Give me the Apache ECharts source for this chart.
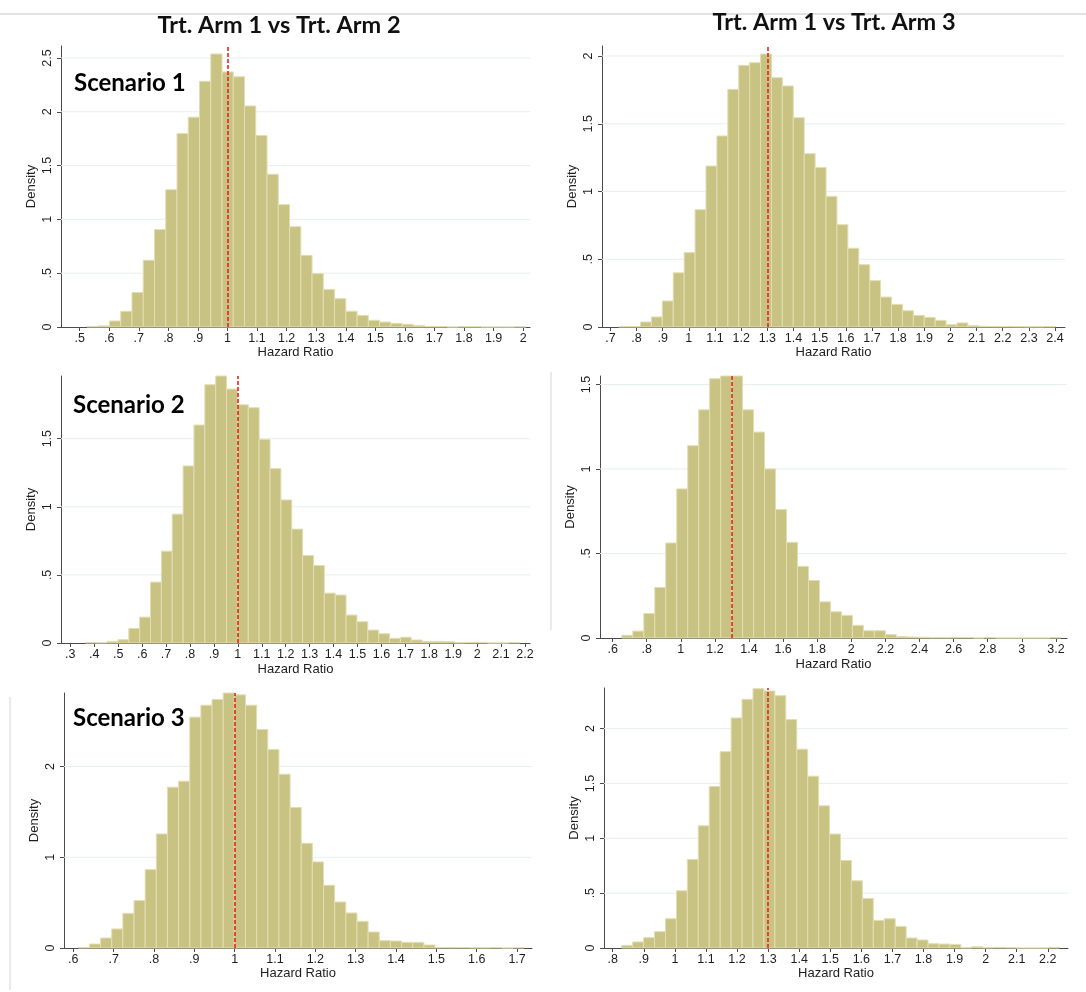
<!DOCTYPE html>
<html><head><meta charset="utf-8">
<script src="https://cdn.jsdelivr.net/npm/echarts@6/dist/echarts.min.js"></script>
<style>html,body{margin:0;padding:0;background:#fff}#c{width:1086px;height:992px}</style>
</head><body><div id="c"></div>
<script>
// ---------- DATA ----------
const colTitles = ['Trt. Arm 1 vs Trt. Arm 2', 'Trt. Arm 1 vs Trt. Arm 3'];
const scenarioLabels = ['Scenario 1', 'Scenario 2', 'Scenario 3'];
const xAxisTitle = 'Hazard Ratio';
const yAxisTitle = 'Density';

// Scenario 1, Arm1 vs Arm2
const binStart1 = 0.5248, binWidth1 = 0.03806;
const density1 = [0.005, 0.01, 0.056, 0.146, 0.32, 0.62, 0.905, 1.276, 1.797, 1.95,
  2.283, 2.537, 2.37, 2.326, 2.054, 1.78, 1.419, 1.137, 0.932, 0.666,
  0.496, 0.35, 0.263, 0.146, 0.108, 0.062, 0.046, 0.034, 0.025, 0.015,
  0.006, 0.004, 0, 0.003, 0.003, 0, 0, 0, 0.003];
const xTicks1 = [0.5, 0.6, 0.7, 0.8, 0.9, 1, 1.1, 1.2, 1.3, 1.4, 1.5, 1.6, 1.7, 1.8, 1.9, 2];
const yTicks1 = [0, 0.5, 1, 1.5, 2, 2.5];
const refHR1 = 1;

// Scenario 1, Arm1 vs Arm3
const binStart2 = 0.7318, binWidth2 = 0.04172;
const density2 = [0.003, 0.003, 0.037, 0.074, 0.192, 0.40, 0.549, 0.866, 1.188, 1.41,
  1.754, 1.931, 1.951, 2.015, 1.84, 1.779, 1.545, 1.279, 1.178, 0.964,
  0.755, 0.581, 0.46, 0.342, 0.221, 0.167, 0.12, 0.086, 0.071, 0.049,
  0.017, 0.03, 0.01, 0.005, 0.004, 0.004, 0.003, 0.002, 0.002, 0.004];
const xTicks2 = [0.7, 0.8, 0.9, 1, 1.1, 1.2, 1.3, 1.4, 1.5, 1.6, 1.7, 1.8, 1.9, 2, 2.1, 2.2, 2.3, 2.4];
const yTicks2 = [0, 0.5, 1, 1.5, 2];
const refHR2 = 1.3;

// Scenario 2, Arm1 vs Arm2
const binStart3 = 0.3627, binWidth3 = 0.0454;
const density3 = [0.004, 0.002, 0.012, 0.024, 0.107, 0.19, 0.447, 0.674, 0.946, 1.30,
  1.60, 1.896, 1.96, 1.864, 1.749, 1.727, 1.495, 1.28, 1.05, 0.836,
  0.643, 0.569, 0.366, 0.352, 0.205, 0.156, 0.095, 0.068, 0.034, 0.042,
  0.022, 0.012, 0.012, 0.01, 0.002, 0.004, 0.004, 0, 0, 0.004];
const xTicks3 = [0.3, 0.4, 0.5, 0.6, 0.7, 0.8, 0.9, 1, 1.1, 1.2, 1.3, 1.4, 1.5, 1.6, 1.7, 1.8, 1.9, 2, 2.1, 2.2];
const yTicks3 = [0, 0.5, 1, 1.5];
const refHR3 = 1;

// Scenario 2, Arm1 vs Arm3
const binStart4 = 0.654, binWidth4 = 0.0644;
const density4 = [0.016, 0.041, 0.145, 0.299, 0.562, 0.882, 1.138, 1.35, 1.534, 1.55,
  1.55, 1.35, 1.218, 1.0, 0.76, 0.566, 0.424, 0.34, 0.214, 0.155,
  0.134, 0.075, 0.043, 0.043, 0.02, 0.008, 0.006, 0.004, 0.002, 0.002,
  0.003, 0.003, 0, 0.003, 0, 0, 0, 0, 0, 0.003];
const xTicks4 = [0.6, 0.8, 1, 1.2, 1.4, 1.6, 1.8, 2, 2.2, 2.4, 2.6, 2.8, 3, 3.2];
const yTicks4 = [0, 0.5, 1, 1.5];
const refHR4 = 1.3;

// Scenario 3, Arm1 vs Arm2
const binStart5 = 0.6124, binWidth5 = 0.02763;
const density5 = [0.005, 0.044, 0.11, 0.21, 0.382, 0.522, 0.864, 1.257, 1.772, 1.838,
  2.544, 2.676, 2.739, 2.81, 2.79, 2.676, 2.408, 2.187, 1.915, 1.548,
  1.154, 0.949, 0.691, 0.507, 0.386, 0.294, 0.176, 0.081, 0.077, 0.0625,
  0.0625, 0.033, 0.006, 0.006, 0.006, 0.003, 0.003, 0.006, 0, 0.005];
const xTicks5 = [0.6, 0.7, 0.8, 0.9, 1, 1.1, 1.2, 1.3, 1.4, 1.5, 1.6, 1.7];
const yTicks5 = [0, 1, 2];
const refHR5 = 1;

// Scenario 3, Arm1 vs Arm3
const binStart6 = 0.829, binWidth6 = 0.0352;
const density6 = [0.024, 0.055, 0.094, 0.149, 0.267, 0.522, 0.807, 1.114, 1.472, 1.79,
  2.097, 2.267, 2.364, 2.343, 2.30, 2.082, 1.812, 1.566, 1.296, 1.039,
  0.798, 0.613, 0.452, 0.252, 0.267, 0.197, 0.091, 0.073, 0.039, 0.036,
  0.033, 0.002, 0.012, 0.003, 0.006, 0.003, 0, 0, 0, 0.006];
const xTicks6 = [0.8, 0.9, 1, 1.1, 1.2, 1.3, 1.4, 1.5, 1.6, 1.7, 1.8, 1.9, 2, 2.1, 2.2];
const yTicks6 = [0, 0.5, 1, 1.5, 2];
const refHR6 = 1.3;

// ---------- LAYOUT / STYLE ----------
const panels = [
  {start: binStart1, width: binWidth1, dens: density1, xt: xTicks1, yt: yTicks1, ref: refHR1,
   grid: {left: 61, top: 46, width: 469, height: 281}, xMin: 0.437, xMax: 2.023, yMax: 2.611, xGap: 18},
  {start: binStart2, width: binWidth2, dens: density2, xt: xTicks2, yt: yTicks2, ref: refHR2,
   grid: {left: 602, top: 46, width: 463, height: 281}, xMin: 0.668, xMax: 2.438, yMax: 2.074, xGap: 18},
  {start: binStart3, width: binWidth3, dens: density3, xt: xTicks3, yt: yTicks3, ref: refHR3,
   grid: {left: 61, top: 376, width: 469, height: 267}, xMin: 0.261, xMax: 2.221, yMax: 1.96, xGap: 20},
  {start: binStart4, width: binWidth4, dens: density4, xt: xTicks4, yt: yTicks4, ref: refHR4,
   grid: {left: 600, top: 376, width: 467, height: 262}, xMin: 0.526, xMax: 3.265, yMax: 1.55, xGap: 20},
  {start: binStart5, width: binWidth5, dens: density5, xt: xTicks5, yt: yTicks5, ref: refHR5,
   grid: {left: 64, top: 693, width: 468, height: 255}, xMin: 0.577, xMax: 1.737, yMax: 2.81, xGap: 19},
  {start: binStart6, width: binWidth6, dens: density6, xt: xTicks6, yt: yTicks6, ref: refHR6,
   grid: {left: 604, top: 688, width: 464, height: 260}, xMin: 0.772, xMax: 2.265, yMax: 2.37, xGap: 19}
];

const BAR_FILL = '#C9C383';
const BAR_EDGE = '#E2DEB2';
const AXIS_COL = '#4a4a4a';
const TXT_COL = '#1e1e1e';
const GRID_COL = '#E6EFF1';
const FONT = 'Liberation Sans';

function fmt(v) {
  let s = String(Math.round(v * 100) / 100);
  return s.replace(/^0\./, '.');
}

const option = {
  animation: false,
  backgroundColor: '#fff',
  grid: [], xAxis: [], yAxis: [], series: [],
  graphic: []
};

panels.forEach((p, i) => {
  option.grid.push(Object.assign({containLabel: false}, p.grid));
  option.xAxis.push({
    type: 'value', gridIndex: i, min: p.xMin, max: p.xMax,
    axisLine: {show: true, onZero: false, lineStyle: {color: AXIS_COL, width: 1}},
    axisTick: {show: true, customValues: p.xt, length: 4, lineStyle: {color: AXIS_COL}},
    axisLabel: {show: true, customValues: p.xt, formatter: fmt, fontSize: 12.5, color: TXT_COL, margin: 5, fontFamily: FONT},
    splitLine: {show: false},
    name: xAxisTitle, nameLocation: 'middle', nameGap: p.xGap,
    nameTextStyle: {fontSize: 13, color: TXT_COL, fontFamily: FONT}
  });
  option.yAxis.push({
    type: 'value', gridIndex: i, min: 0, max: p.yMax,
    axisLine: {show: true, onZero: false, lineStyle: {color: AXIS_COL, width: 1}},
    axisTick: {show: true, customValues: p.yt, length: 4, lineStyle: {color: AXIS_COL}},
    axisLabel: {show: true, customValues: p.yt, formatter: fmt, rotate: 90, fontSize: 12.5, color: TXT_COL, margin: 7, fontFamily: FONT},
    splitLine: {show: false},
    name: yAxisTitle, nameLocation: 'middle', nameGap: 23, nameRotate: 90,
    nameTextStyle: {fontSize: 13, color: TXT_COL, fontFamily: FONT}
  });
  // gridlines
  option.series.push({
    type: 'custom', xAxisIndex: i, yAxisIndex: i, z: 1, silent: true,
    data: p.yt.filter(v => v > 0).map(v => [v]),
    encode: {y: 0},
    renderItem: (params, api) => {
      const v = api.value(0);
      const a = api.coord([p.xMin, v]), b = api.coord([p.xMax, v]);
      return {type: 'line', shape: {x1: a[0], y1: a[1], x2: b[0], y2: b[1]},
              style: {stroke: GRID_COL, lineWidth: 1}};
    }
  });
  // histogram bars
  option.series.push({
    type: 'custom', xAxisIndex: i, yAxisIndex: i, z: 2, silent: true,
    data: p.dens.map((d, k) => [p.start + k * p.width, p.start + (k + 1) * p.width, d]),
    encode: {x: [0, 1], y: 2},
    renderItem: (params, api) => {
      const a = api.coord([api.value(0), api.value(2)]);
      const b = api.coord([api.value(1), 0]);
      return {type: 'rect', shape: {x: a[0], y: a[1], width: b[0] - a[0], height: b[1] - a[1]},
              style: {fill: BAR_FILL, stroke: BAR_EDGE, lineWidth: 1}};
    },
    markLine: {
      silent: true, symbol: ['none', 'none'], label: {show: false},
      lineStyle: {color: '#E8231E', type: [4, 2], width: 1.6},
      data: [{xAxis: p.ref}]
    }
  });
});

// titles and scenario labels
option.graphic.push(
  {type: 'line', shape: {x1: 0, y1: 14, x2: 1086, y2: 14}, style: {stroke: '#C4C4C4', lineWidth: 1}, silent: true},
  {type: 'line', shape: {x1: 551, y1: 372, x2: 551, y2: 630}, style: {stroke: '#D6D6D6', lineWidth: 1}, silent: true},
  {type: 'line', shape: {x1: 10, y1: 697, x2: 10, y2: 990}, style: {stroke: '#D6D6D6', lineWidth: 1}, silent: true},
  {type: 'text', x: 279, y: 25, style: {text: colTitles[0], align: 'center', verticalAlign: 'middle', fontSize: 23.5, fontWeight: 'bold', fontFamily: 'Lato', fill: '#111'}},
  {type: 'text', x: 834, y: 22, style: {text: colTitles[1], align: 'center', verticalAlign: 'middle', fontSize: 23.5, fontWeight: 'bold', fontFamily: 'Lato', fill: '#111'}},
  {type: 'text', x: 74, y: 83, style: {text: scenarioLabels[0], align: 'left', verticalAlign: 'middle', fontSize: 24, fontWeight: 'bold', fontFamily: 'Lato', fill: '#000'}},
  {type: 'text', x: 73, y: 405, style: {text: scenarioLabels[1], align: 'left', verticalAlign: 'middle', fontSize: 24, fontWeight: 'bold', fontFamily: 'Lato', fill: '#000'}},
  {type: 'text', x: 73, y: 718, style: {text: scenarioLabels[2], align: 'left', verticalAlign: 'middle', fontSize: 24, fontWeight: 'bold', fontFamily: 'Lato', fill: '#000'}}
);

const chart = echarts.init(document.getElementById('c'), null, {renderer: 'canvas'});
chart.setOption(option);
</script>
</body></html>
